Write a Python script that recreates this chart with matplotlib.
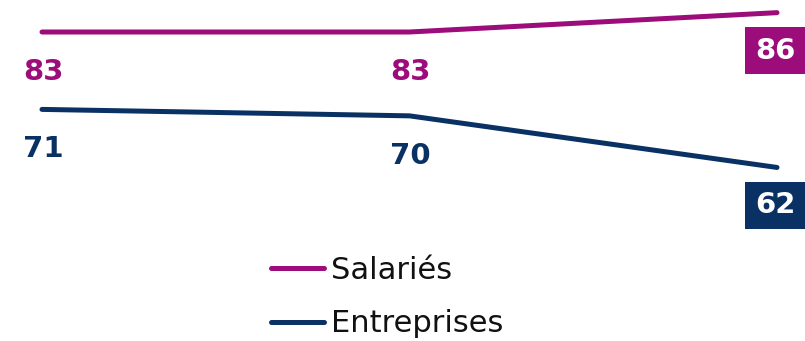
import matplotlib
matplotlib.use("Agg")
import matplotlib.pyplot as plt

categories = ["P1", "P2", "P3"]
salaries = [83, 83, 86]
entreprises = [71, 70, 62]
series_names = ["Salariés", "Entreprises"]

C_SAL = "#9C0C7A"
C_ENT = "#0A3163"

W, H = 805, 341
fig = plt.figure(figsize=(W / 100, H / 100), dpi=100)
ax = fig.add_axes([0, 0, 1, 1])
ax.set_axis_off()

x = list(range(len(categories)))
ppx = (777 - 42) / 2.0
ax.set_xlim(-42 / ppx, 2 + (W - 777) / ppx)
ppy = 6.45
ax.set_ylim(83 - (H - 32) / ppy, 83 + 32 / ppy)

l1, = ax.plot(x, salaries, color=C_SAL, lw=3.6, solid_capstyle="round", label=series_names[0])
l2, = ax.plot(x, entreprises, color=C_ENT, lw=3.6, solid_capstyle="round", label=series_names[1])

for vals, col in [(salaries, C_SAL), (entreprises, C_ENT)]:
    for i, v in enumerate(vals):
        if i == len(vals) - 1:
            ax.annotate(str(v), (i, v), xytext=(-2, -38), textcoords="offset pixels",
                        ha="center", va="center", fontsize=21, fontweight="bold",
                        color="white",
                        bbox=dict(boxstyle="square,pad=0.32", fc=col, ec="none"))
        else:
            ax.annotate(str(v), (i, v), xytext=(1, -40), textcoords="offset pixels",
                        ha="center", va="center", fontsize=21, fontweight="bold",
                        color=col)

leg = ax.legend(handles=[l1, l2], loc="upper left",
                bbox_to_anchor=(271 / W, 1 - 256 / H), bbox_transform=fig.transFigure,
                frameon=False, fontsize=22, handlelength=1.73, handletextpad=0.23,
                labelspacing=0.8, borderpad=0, borderaxespad=0)
for t in leg.get_texts():
    t.set_color("#111111")

fig.savefig("out.png", dpi=100)
